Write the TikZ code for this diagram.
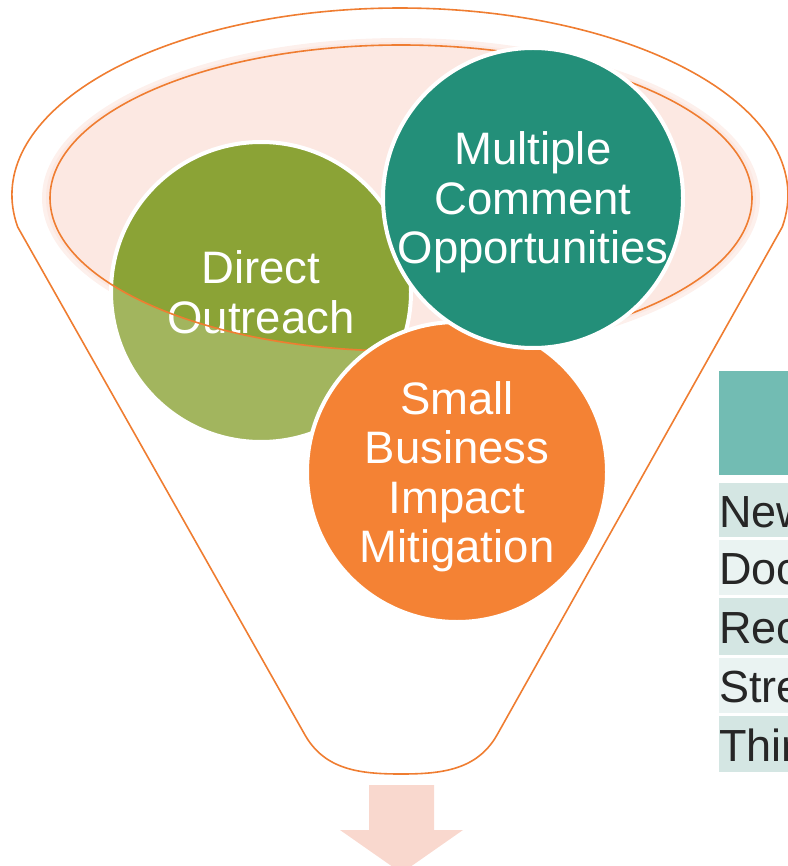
\documentclass[tikz,border=0pt]{standalone}
\usepackage{fontspec}
\setmainfont{Liberation Sans}
\definecolor{funnelline}{HTML}{EF7D31}
\definecolor{rimfill}{HTML}{FCE8E2}
\definecolor{rimglow}{HTML}{FDF0EC}
\definecolor{olive}{HTML}{8BA336}
\definecolor{teal}{HTML}{238F79}
\definecolor{tangerine}{HTML}{F48234}
\definecolor{spout}{HTML}{F9D8CE}
\definecolor{headfill}{HTML}{72BCB3}
\definecolor{rowdark}{HTML}{D4E6E3}
\definecolor{rowlight}{HTML}{EAF3F2}
\definecolor{rowtext}{HTML}{262626}
\begin{document}
\begin{tikzpicture}[x=1pt,y=-1pt,
  % the text block runs from the cap line of the first line down to
  % the baseline of the last one, so it sits centred in the bubble
  bubble/.style={circle, draw=white, line width=4pt, inner sep=0pt,
    minimum size=300pt, text=white, align=center,
    font=\fontsize{45.5}{49.5}\selectfont, text height=#1,
    text depth=0pt},
  rowbox/.style={rectangle, draw=none, inner sep=0pt, anchor=north west,
    minimum width=90pt},
  rowlabel/.style={anchor=base west, inner sep=0pt, text=rowtext,
    font=\fontsize{45}{50}\selectfont},
  outline/.style={draw=funnelline, line width=1.6pt}]
\useasboundingbox (0,0) rectangle (787,866);

% rim of the funnel: soft pink fill
\fill[rimglow] (401,198) ellipse [x radius=359, y radius=160];
\fill[rimfill] (401,198) ellipse [x radius=355, y radius=156];

% outer body of the funnel
\coordinate (lt) at (17.7,227);
\coordinate (lb) at (305,735);
\coordinate (rb) at (497,735);
\coordinate (bot) at (401,774);
\draw[outline] (lt) arc [start angle=170.15, end angle=369.85,
    x radius=388, y radius=187]
  -- (rb) .. controls (477,770) and (442,774) .. (bot)
  .. controls (360,774) and (325,770) .. (lb) -- cycle;

% green bubble, lightened where it lies below the rim
\node[bubble=82pt, fill=olive] (outreach) at (261,292) {Direct\\Outreach};
\begin{scope}
  \clip (261,292) circle [radius=150];
  \fill[white, fill opacity=0.2, even odd rule]
    (0,0) rectangle (787,866) (401,198) ellipse [x radius=351, y radius=153];
\end{scope}

% rim outline
\draw[outline] (401,198) ellipse [x radius=351, y radius=153];

% orange and teal bubbles
\node[bubble=181pt, fill=tangerine] (mitigation) at (457,472)
  {Small\\Business\\Impact\\Mitigation};
\node[bubble=131.5pt, fill=teal] (comment) at (533,198)
  {Multiple\\Comment\\Opportunities};

% spout arrow
\fill[spout] (369,785) -- (434,785) -- (434,830) -- (463,830)
  -- (401.5,873) -- (340,830) -- (369,830) -- cycle;

% list on the right
\node[rowbox, fill=headfill, minimum height=104pt] (head) at (719,371) {};
\node[rowbox, fill=rowdark,  minimum height=54pt] (r1) at (719,483) {};
\node[rowbox, fill=rowlight, minimum height=55pt] (r2) at (719,540) {};
\node[rowbox, fill=rowdark,  minimum height=57pt] (r3) at (719,598) {};
\node[rowbox, fill=rowlight, minimum height=55pt] (r4) at (719,658) {};
\node[rowbox, fill=rowdark,  minimum height=56pt] (r5) at (719,716) {};
\node[rowlabel] (t1) at (719,527) {New};
\node[rowlabel] (t2) at (719,584) {Doc};
\node[rowlabel] (t3) at (719,643) {Rec};
\node[rowlabel] (t4) at (719,702) {Stre};
\node[rowlabel] (t5) at (719,761) {Thir};
\end{tikzpicture}
\end{document}
